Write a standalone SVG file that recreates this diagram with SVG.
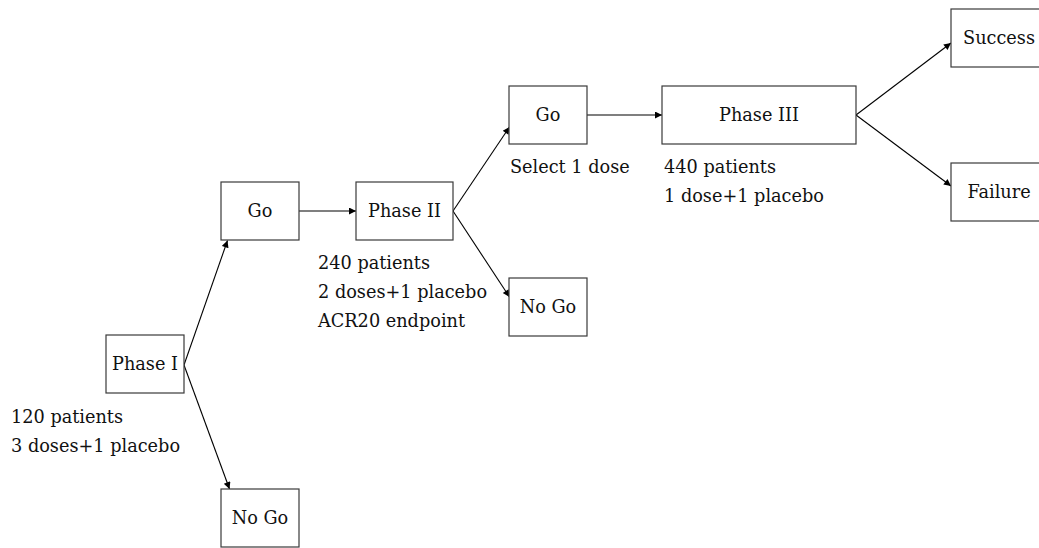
<svg xmlns="http://www.w3.org/2000/svg" width="1039" height="548" viewBox="0 0 1039 548">
<defs>
<style>
.box{fill:#fff;stroke:#3a3a3a;stroke-width:1.2}
.lbl{font-family:"DejaVu Serif","Liberation Serif",serif;font-size:17.7px;fill:#111}
.mid{text-anchor:middle}
.edge{stroke:#000;stroke-width:1.1;fill:none;marker-end:url(#ah)}
</style>
<marker id="ah" viewBox="0 0 10 10" refX="10" refY="5" markerWidth="10" markerHeight="7" markerUnits="userSpaceOnUse" orient="auto">
<path d="M0,0 L10,5 L0,10 z" fill="#000"/>
</marker>
</defs>
<rect width="1039" height="548" fill="#fff"/>
<g id="connectors">
<line class="edge" x1="184" y1="365" x2="227.5" y2="240.5"/>
<line class="edge" x1="184" y1="365" x2="229.5" y2="489"/>
<line class="edge" x1="299" y1="211" x2="356" y2="211"/>
<line class="edge" x1="453" y1="211" x2="509.5" y2="127"/>
<line class="edge" x1="453" y1="211" x2="509.5" y2="297"/>
<line class="edge" x1="587" y1="115" x2="662" y2="115"/>
<line class="edge" x1="856" y1="115" x2="951" y2="43"/>
<line class="edge" x1="856" y1="115" x2="951" y2="186"/>
</g>
<g id="phase1">
<rect class="box" x="106" y="335" width="78" height="58"/>
<text class="lbl mid" x="145" y="370">Phase I</text>
<text class="lbl" x="11" y="423">120 patients</text>
<text class="lbl" x="11" y="452">3 doses+1 placebo</text>
</g>
<g id="go1">
<rect class="box" x="221" y="182" width="78" height="58"/>
<text class="lbl mid" x="260" y="217">Go</text>
</g>
<g id="nogo1">
<rect class="box" x="221" y="489" width="78" height="58"/>
<text class="lbl mid" x="260" y="524">No Go</text>
</g>
<g id="phase2">
<rect class="box" x="356" y="182" width="97" height="58"/>
<text class="lbl mid" x="404.5" y="217">Phase II</text>
<text class="lbl" x="318" y="268.5">240 patients</text>
<text class="lbl" x="318" y="297.5">2 doses+1 placebo</text>
<text class="lbl" x="318" y="326.5">ACR20 endpoint</text>
</g>
<g id="go2">
<rect class="box" x="509" y="86" width="78" height="58"/>
<text class="lbl mid" x="548" y="121">Go</text>
<text class="lbl" x="510" y="173">Select 1 dose</text>
</g>
<g id="nogo2">
<rect class="box" x="509" y="278" width="78" height="58"/>
<text class="lbl mid" x="548" y="313">No Go</text>
</g>
<g id="phase3">
<rect class="box" x="662" y="86" width="194" height="58"/>
<text class="lbl mid" x="759" y="121">Phase III</text>
<text class="lbl" x="664" y="173">440 patients</text>
<text class="lbl" x="664" y="201.5">1 dose+1 placebo</text>
</g>
<g id="success">
<rect class="box" x="951" y="9" width="100" height="58"/>
<text class="lbl mid" x="999" y="44">Success</text>
</g>
<g id="failure">
<rect class="box" x="951" y="163" width="100" height="58"/>
<text class="lbl mid" x="999" y="198">Failure</text>
</g>
</svg>
